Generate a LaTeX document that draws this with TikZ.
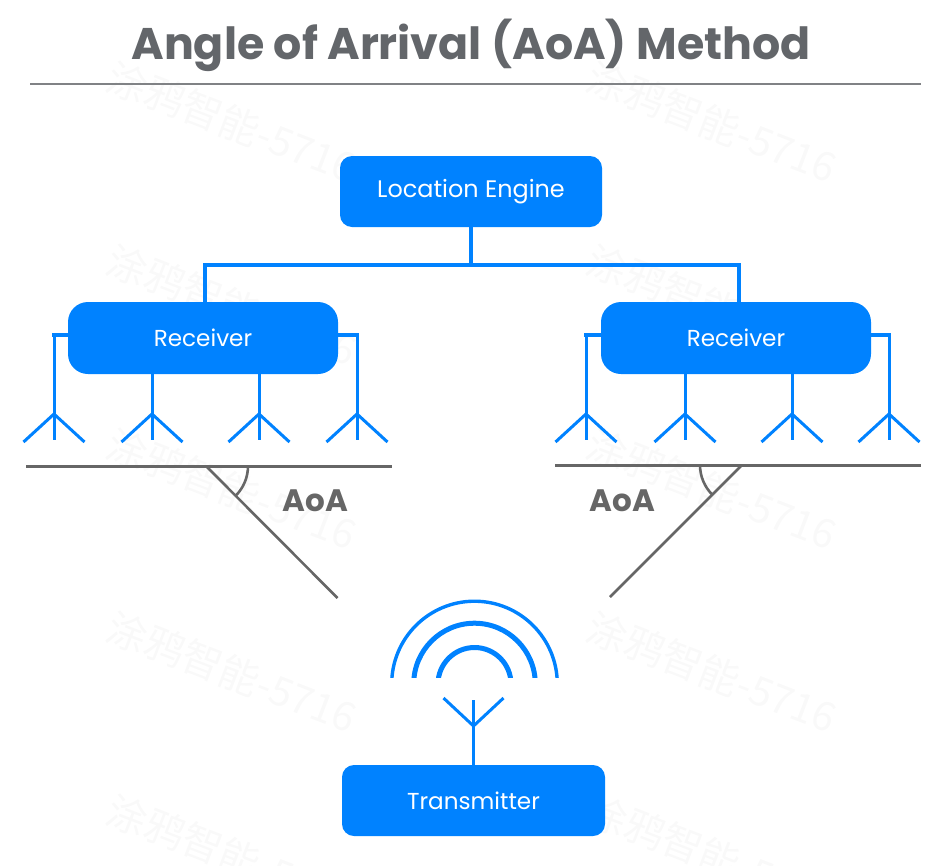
\documentclass[tikz,border=0pt]{standalone}
\usepackage{fontspec}
\setmainfont{Poppins}
\newfontfamily\cjkwm{Noto Sans CJK SC}
\definecolor{boxblue}{HTML}{0082FF}
\definecolor{titlegray}{HTML}{63666A}
\definecolor{rulegray}{HTML}{808285}
\definecolor{linegray}{HTML}{666666}
\definecolor{wmgray}{HTML}{F9F9F9}
\tikzset{
  x=1pt,y=-1pt,
  bluebox/.style={fill=boxblue,text=white,draw=none,rounded corners=#1,inner sep=0pt},
  wire/.style={draw=boxblue,line width=#1pt,line cap=butt},
  grayline/.style={draw=linegray,line width=#1pt},
  aoalabel/.style={text=linegray,font=\fontsize{31}{36}\selectfont\bfseries,inner sep=0pt},
  watermark/.style={text=wmgray,rotate=-21,font=\cjkwm\fontsize{40}{46}\selectfont,inner sep=0pt},
}
\begin{document}
\begin{tikzpicture}
\useasboundingbox (0,0) rectangle (952,865);
% watermark
\foreach \wx/\wxn in {232/a,712/b}
  \foreach \wy/\wyn in {122/a,305/b,489/c,672/d,855/e}
    \node[watermark] (wm\wxn\wyn) at (\wx,\wy) {涂鸦智能-5716};
% title
\node[text=titlegray,font=\fontsize{44.3}{50}\selectfont\bfseries,inner sep=0pt] (title) at (471,45) {Angle of Arrival (AoA) Method};
\coordinate (ruleL) at (30,84);
\coordinate (ruleR) at (921,84);
\draw[draw=rulegray,line width=1.8pt] (ruleL) -- (ruleR);
% boxes
\node[bluebox=12pt,minimum width=262pt,minimum height=71pt,font=\fontsize{23.9}{28}\selectfont] (engine) at (471,191.5) {Location Engine};
\node[bluebox=20pt,minimum width=270pt,minimum height=72pt,font=\fontsize{23.1}{27}\selectfont] (recL) at (203,338) {Receiver};
\node[bluebox=20pt,minimum width=270pt,minimum height=72pt,font=\fontsize{23.1}{27}\selectfont] (recR) at (736,338) {Receiver};
\node[bluebox=12pt,minimum width=263pt,minimum height=71pt,font=\fontsize{23.1}{27}\selectfont] (trans) at (473.5,800.5) {Transmitter};
% engine connectors
\coordinate (busL) at (204.5,265);
\coordinate (busR) at (738.5,265);
\coordinate (busC) at (471,265);
\draw[wire=4] (busC |- engine.south) -- (busC);
\draw[wire=4,line cap=rect] (busL) -- (busR);
\draw[wire=4] (busL) -- (busL |- recL.north);
\draw[wire=4] (busR) -- (busR |- recR.north);
% receiver antennas
\foreach \rec/\ox/\sa/\sb/\sc/\sd in {recL/0/54/152/259/357,recR/532/586/685/792/889}{
  \foreach \ax/\idx in {\sb/b,\sc/c}{
    \coordinate (apex) at (\ax,414);
    \coordinate (armA) at (\ax-30.5,442);
    \coordinate (armB) at (\ax+30.5,442);
    \coordinate (tail) at (\ax,439.5);
    \draw[wire=3] (apex |- \rec.south) -- (tail);
    \draw[wire=3] (armA) -- (apex) -- (armB);
  }
  \foreach \ax/\side/\stub in {\sa/west/-2,\sd/east/2}{
    \coordinate (apex) at (\ax,414);
    \coordinate (armA) at (\ax-30.5,442);
    \coordinate (armB) at (\ax+30.5,442);
    \coordinate (tail) at (\ax,439.5);
    \coordinate (stubEnd) at (\ax+\stub,335);
    \draw[wire=4] (\rec.\side |- stubEnd) -- (stubEnd);
    \draw[wire=3] (\ax,334) -- (tail);
    \draw[wire=3] (armA) -- (apex) -- (armB);
  }
}
% ground lines and rays
\coordinate (gLa) at (26,466);
\coordinate (gLb) at (392,466);
\coordinate (gRa) at (555,465);
\coordinate (gRb) at (921,465);
\coordinate (hitL) at (206,466);
\coordinate (hitR) at (742,465);
\coordinate (rayL) at (337.5,598);
\coordinate (rayR) at (610,597);
\draw[grayline=3] (gLa) -- (gLb);
\draw[grayline=3] (gRa) -- (gRb);
\draw[grayline=2.6] (hitL) -- (rayL);
\draw[grayline=2.6] (hitR) -- (rayR);
% arcs of the angle (y axis is flipped, so angles run clockwise on the page)
\draw[grayline=2.6] (248,466) arc[start angle=0,end angle=45,radius=42];
\draw[grayline=2.6] (700,465) arc[start angle=180,end angle=135,radius=42];
\node[aoalabel] (aoaL) at (315.5,500.5) {AoA};
\node[aoalabel] (aoaR) at (622.5,500.5) {AoA};
% signal arcs
\coordinate (sig) at (474.5,684);
\begin{scope}
  \clip (380,590) rectangle (570,677);
  \draw[wire=3.4] (sig) ++(-82.8,0) arc[start angle=180,end angle=360,radius=82.8];
  \draw[wire=5] (sig) ++(-60.8,0) arc[start angle=180,end angle=360,radius=60.8];
  \draw[wire=5] (sig) ++(-36.5,0) arc[start angle=180,end angle=360,radius=36.5];
\end{scope}
% transmitter antenna
\coordinate (tApex) at (473.5,726);
\coordinate (tTop) at (473.5,700);
\coordinate (tArmA) at (443.5,698);
\coordinate (tArmB) at (503.5,698);
\draw[wire=3] (trans.north -| tTop) -- (tTop);
\draw[wire=3] (tArmA) -- (tApex) -- (tArmB);
\end{tikzpicture}
\end{document}
